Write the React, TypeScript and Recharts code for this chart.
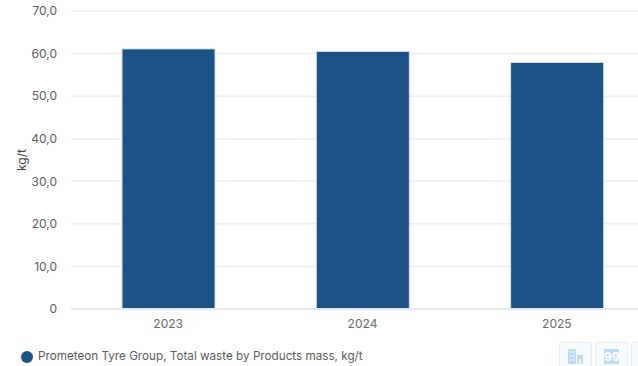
import { BarChart, Bar, XAxis, YAxis, CartesianGrid, Legend, Label } from "recharts";

const years = ["2023", "2024", "2025"];
const wasteValues = [61.1, 60.5, 57.9];
const yTicks = [0, 10, 20, 30, 40, 50, 60, 70];
const seriesName = "Prometeon Tyre Group, Total waste by Products mass, kg/t";

const chartData = years.map((year, i) => ({ year, waste: wasteValues[i] }));

const FONT = "Inter, sans-serif";
const formatTick = (v: number) => (v === 0 ? "0" : v.toFixed(1).replace(".", ","));

function ExportButtons() {
  return (
    <div style={{ position: "absolute", left: 559, top: 342, display: "flex", gap: 3 }}>
      <div style={buttonStyle}>
        <svg width="15" height="15" viewBox="0 0 15 15">
          <rect x="0" y="0" width="8" height="15" fill="#bcdcf4" />
          <path d="M2 2h1.5v2H2zM5 2h1.5v2H5zM2 6h1.5v2H2zM5 6h1.5v2H5zM2 10h1.5v2H2zM5 10h1.5v2H5z" fill="#eef6fc" />
          <rect x="9" y="6" width="6" height="9" fill="#bcdcf4" />
          <rect x="11" y="10" width="2" height="5" fill="#eef6fc" />
        </svg>
      </div>
      <div style={buttonStyle}>
        <div style={{ background: "#bcdcf4", color: "#fff", fontSize: 12, fontWeight: 700, width: 15, height: 15, lineHeight: "15px", textAlign: "center" }}>
          99
        </div>
      </div>
      <div style={buttonStyle} />
    </div>
  );
}

const buttonStyle: React.CSSProperties = {
  width: 33,
  height: 30,
  boxSizing: "border-box",
  border: "1px solid #e3eff8",
  borderRadius: 2,
  background: "#f8fbfe",
  display: "flex",
  justifyContent: "center",
  paddingTop: 6,
  fontFamily: FONT,
};

export default function App() {
  return (
    <div style={{ position: "fixed", inset: 0, overflow: "hidden", background: "#fff" }}>
      <BarChart
        width={680}
        height={366}
        data={chartData}
        barSize={93}
        margin={{ top: 11, right: 26, bottom: 21, left: 11 }}
      >
        <CartesianGrid vertical={false} stroke="#eeeef1" strokeWidth={1.5} />
        <XAxis
          dataKey="year"
          tick={{ fill: "#6a6a6a", fontSize: 12, fontFamily: FONT }}
          tickLine={false}
          axisLine={{ stroke: "#e4e6f2", strokeWidth: 2 }}
          tickMargin={4}
          height={22}
        />
        <YAxis
          domain={[0, 70]}
          ticks={yTicks}
          tickFormatter={formatTick}
          tick={{ fill: "#5c5c5c", fontSize: 12, fontFamily: FONT }}
          tickLine={false}
          axisLine={false}
          width={60}
          tickMargin={8}
        >
          <Label
            value="kg/t"
            angle={-90}
            position="insideLeft"
            offset={11}
            style={{ fill: "#444", fontSize: 12, fontFamily: FONT, textAnchor: "middle" }}
          />
        </YAxis>
        <Legend
          align="left"
          verticalAlign="bottom"
          iconType="circle"
          iconSize={12}
          wrapperStyle={{ fontFamily: FONT, fontSize: 11.7, left: 21, bottom: 3, width: 500 }}
          formatter={(value) => <span style={{ color: "#5c5c5c", marginLeft: 1 }}>{value}</span>}
        />
        <Bar
          dataKey="waste"
          name={seriesName}
          fill="#1c5285"
          stroke="#d3dfec"
          strokeWidth={1}
          isAnimationActive={false}
        />
      </BarChart>
      <ExportButtons />
    </div>
  );
}
